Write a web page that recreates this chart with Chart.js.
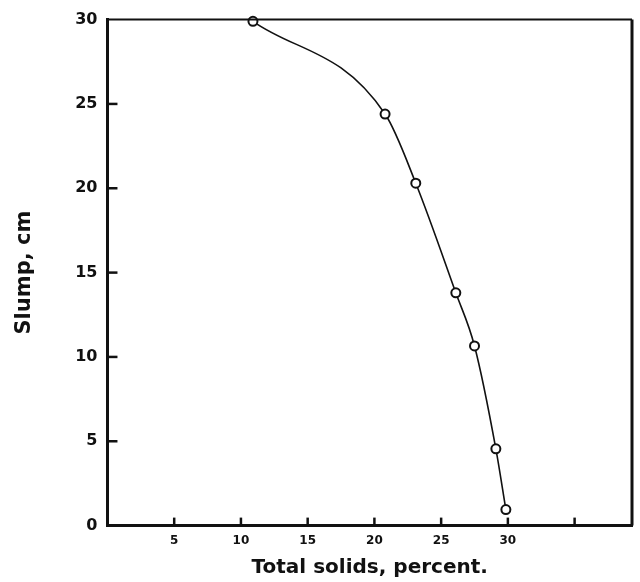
<!DOCTYPE html>
<html>
<head>
<meta charset="utf-8">
<script src="https://cdn.jsdelivr.net/npm/chart.js@4"></script>
<style>
  body { margin: 0; background: #fff; }
  #wrap { width: 640px; height: 582px; }
</style>
</head>
<body>
<div id="wrap"><canvas id="myChart"></canvas></div>
<script>
// total solids (%) vs slump (cm)
var solids = [10.9, 20.8, 23.1, 26.1, 27.5, 29.1, 29.85]
var slump = [29.9, 24.4, 20.3, 13.8, 10.65, 4.55, 0.95]
var xTicks = [5, 10, 15, 20, 25, 30, 35]
var yTicks = [0, 5, 10, 15, 20, 25, 30]

var points = solids.map(function (x, i) { return { x: x, y: slump[i] } })

// border around plot + inward tick marks
var frame = {
  id: 'frame',
  afterDraw: function (chart) {
    var ctx = chart.ctx
    var a = chart.chartArea
    var xs = chart.scales.x, ys = chart.scales.y
    ctx.save()
    ctx.strokeStyle = '#111'
    ctx.lineWidth = 2
    ctx.beginPath()
    ctx.moveTo(a.left, a.top)
    ctx.lineTo(a.right, a.top)
    ctx.stroke()
    ctx.lineWidth = 3
    ctx.beginPath()
    ctx.moveTo(a.right, a.top)
    ctx.lineTo(a.right, a.bottom)
    ctx.stroke()
    ctx.lineWidth = 2.5
    xTicks.forEach(function (v) {
      var px = xs.getPixelForValue(v)
      ctx.beginPath()
      ctx.moveTo(px, a.bottom)
      ctx.lineTo(px, a.bottom - 8)
      ctx.stroke()
    })
    yTicks.forEach(function (v) {
      if (v === 0 || v === 30) return
      var py = ys.getPixelForValue(v)
      ctx.beginPath()
      ctx.moveTo(a.left, py)
      ctx.lineTo(a.left + 10, py)
      ctx.stroke()
    })
    ctx.restore()
  }
}

var ctx = document.getElementById('myChart').getContext('2d')
var myChart = new Chart(ctx, {
  type: 'scatter',
  data: {
    datasets: [{
      data: points,
      showLine: true,
      borderColor: '#111',
      borderWidth: 1.6,
      cubicInterpolationMode: 'monotone',
      pointRadius: 4.5,
      pointBorderWidth: 2,
      pointBackgroundColor: '#fff',
      pointBorderColor: '#111',
      clip: false
    }]
  },
  options: {
    responsive: true,
    maintainAspectRatio: false,
    animation: false,
    layout: { padding: { left: 12, right: 8, top: 16, bottom: 2 } },
    plugins: {
      legend: { display: false },
      tooltip: { enabled: false }
    },
    scales: {
      x: {
        type: 'linear',
        min: 0,
        max: 39.3,
        afterBuildTicks: function (scale) {
          scale.ticks = xTicks.map(function (v) { return { value: v } })
        },
        ticks: {
          color: '#111',
          font: { family: 'DejaVu Sans', weight: 'bold', size: 12 },
          padding: 8,
          maxRotation: 0,
          callback: function (v) { return v === 35 ? '' : v }
        },
        grid: { drawOnChartArea: false, drawTicks: false },
        border: { display: true, color: '#111', width: 3 },
        title: {
          display: true,
          text: 'Total solids, percent.',
          color: '#111',
          font: { family: 'DejaVu Sans', weight: 'bold', size: 20 },
          padding: { top: 0, bottom: 0 }
        }
      },
      y: {
        type: 'linear',
        min: 0,
        max: 30,
        afterBuildTicks: function (scale) {
          scale.ticks = yTicks.map(function (v) { return { value: v } })
        },
        ticks: {
          color: '#111',
          font: { family: 'DejaVu Sans', weight: 'bold', size: 16 },
          padding: 10
        },
        grid: { drawOnChartArea: false, drawTicks: false },
        border: { display: true, color: '#111', width: 3 },
        title: {
          display: true,
          text: 'Slump, cm',
          color: '#111',
          font: { family: 'DejaVu Sans', weight: 'bold', size: 21 },
          padding: { top: 0, bottom: 28 }
        }
      }
    }
  },
  plugins: [frame]
})
</script>
</body>
</html>
